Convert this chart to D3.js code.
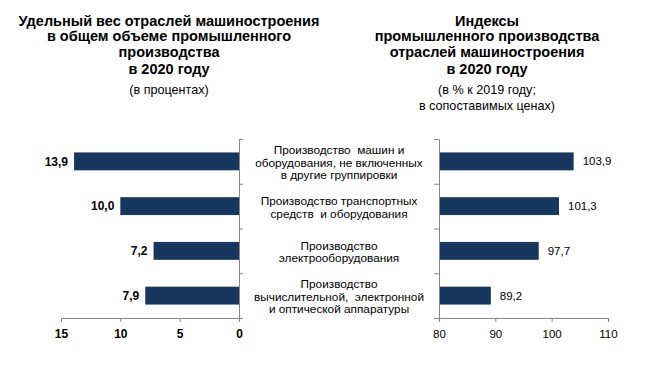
<!DOCTYPE html>
<html lang="ru">
<head>
<meta charset="UTF-8">
<title>Машиностроение 2020</title>
<script src="https://d3js.org/d3.v7.min.js"></script>
<style>
  body { margin: 0; background: #fff; }
  svg { font-family: "Liberation Sans", Arial, sans-serif; }
</style>
</head>
<body>
<script>
const w = 652;
const h = 376;

// data
const categories = [
  ["Производство  машин и", "оборудования, не включенных", "в другие группировки"],
  ["Производство транспортных", "средств  и оборудования"],
  ["Производство", "электрооборудования"],
  ["Производство", "вычислительной,  электронной", "и оптической аппаратуры"]
];
const shares = [13.9, 10.0, 7.2, 7.9];
const indices = [103.9, 101.3, 97.7, 89.2];
const shareTicks = [0, 5, 10, 15];
const indexTicks = [80, 90, 100, 110];

const leftTitle = ["Удельный вес отраслей машиностроения", "в общем объеме промышленного", "производства"];
const leftYear = "в 2020 году";
const leftSub = ["(в процентах)"];
const rightTitle = ["Индексы", "промышленного производства", "отраслей машиностроения"];
const rightYear = "в 2020 году";
const rightSub = ["(в % к 2019 году;", "в сопоставимых ценах)"];

const barColor = "#17375e";
const axisColor = "#868686";
const fmt = d => d.toFixed(1).replace(".", ",");

const svg = d3.select("body").append("svg")
  .attr("width", w)
  .attr("height", h);

// scales
const plotTop = 139, plotBottom = 318;
const y = d3.scaleBand()
  .domain(d3.range(categories.length))
  .range([plotTop, plotBottom])
  .paddingInner(0.6)
  .paddingOuter(0.3);
const yTicks = d3.scaleLinear().domain([0, categories.length]).range([plotTop, plotBottom]);

const xL = d3.scaleLinear().domain([0, 15]).range([239, 61]);
const xR = d3.scaleLinear().domain([80, 110]).range([439, 608]);

// titles
function title(lines, year, sub, cx) {
  const g = svg.append("g").attr("text-anchor", "middle");
  lines.forEach((t, i) => {
    g.append("text").attr("x", cx).attr("y", 26 + i * 15.3)
      .attr("font-size", 14.5).attr("font-weight", "bold").text(t);
  });
  g.append("text").attr("x", cx).attr("y", 73.5)
    .attr("font-size", 14.5).attr("font-weight", "bold").text(year);
  sub.forEach((t, i) => {
    g.append("text").attr("x", cx).attr("y", 94 + i * 15.5)
      .attr("font-size", 12.6).style("white-space", "pre").text(t);
  });
}
title(leftTitle, leftYear, leftSub, 169);
title(rightTitle, rightYear, rightSub, 487);

// left bars
svg.append("g").selectAll("rect")
  .data(shares)
  .join("rect")
  .attr("x", d => xL(d))
  .attr("y", (d, i) => y(i))
  .attr("width", d => xL(0) - xL(d))
  .attr("height", y.bandwidth())
  .attr("fill", barColor);

svg.append("g").selectAll("text")
  .data(shares)
  .join("text")
  .attr("x", d => xL(d) - 6)
  .attr("y", (d, i) => y(i) + y.bandwidth() / 2)
  .attr("dy", "0.35em")
  .attr("text-anchor", "end")
  .attr("font-size", 12)
  .attr("font-weight", "bold")
  .text(fmt);

// right bars
svg.append("g").selectAll("rect")
  .data(indices)
  .join("rect")
  .attr("x", xR(80))
  .attr("y", (d, i) => y(i))
  .attr("width", d => xR(d) - xR(80))
  .attr("height", y.bandwidth())
  .attr("fill", barColor);

svg.append("g").selectAll("text")
  .data(indices)
  .join("text")
  .attr("x", d => xR(d) + 9)
  .attr("y", (d, i) => y(i) + y.bandwidth() / 2)
  .attr("dy", "0.35em")
  .attr("font-size", 11.5)
  .text(fmt);

// axes
function styleAxis(g) {
  g.selectAll("path, line").attr("stroke", axisColor);
  g.selectAll("text").attr("fill", "#000");
}

svg.append("g")
  .attr("transform", `translate(0,${plotBottom})`)
  .call(d3.axisBottom(xL).tickValues(shareTicks).tickSize(4).tickSizeOuter(0).tickFormat(d3.format("d")))
  .call(styleAxis)
  .call(g => g.selectAll("text").attr("font-size", 12).attr("font-weight", "bold").attr("font-family", null).attr("dy", "1.1em"));

svg.append("g")
  .attr("transform", `translate(0,${plotBottom})`)
  .call(d3.axisBottom(xR).tickValues(indexTicks).tickSize(4).tickSizeOuter(0).tickFormat(d3.format("d")))
  .call(styleAxis)
  .call(g => g.selectAll("text").attr("font-size", 11.5).attr("font-family", null).attr("dy", "1.1em"));

svg.append("g")
  .attr("transform", `translate(${xL(0)},0)`)
  .call(d3.axisRight(yTicks).ticks(categories.length).tickSize(4).tickSizeOuter(0).tickFormat(""))
  .call(styleAxis);

svg.append("g")
  .attr("transform", `translate(${xR(80)},0)`)
  .call(d3.axisLeft(yTicks).ticks(categories.length).tickSize(5).tickSizeOuter(0).tickFormat(""))
  .call(styleAxis);

// category labels in the middle
const lh = 12.7;
const cats = svg.append("g").attr("text-anchor", "middle").attr("font-size", 11.8);
categories.forEach((lines, i) => {
  const cy = y(i) + y.bandwidth() / 2 + 1;
  lines.forEach((t, j) => {
    cats.append("text")
      .attr("x", 339)
      .attr("y", cy + (j - (lines.length - 1) / 2) * lh)
      .attr("dy", "0.35em")
      .style("white-space", "pre")
      .text(t);
  });
});
</script>
</body>
</html>
